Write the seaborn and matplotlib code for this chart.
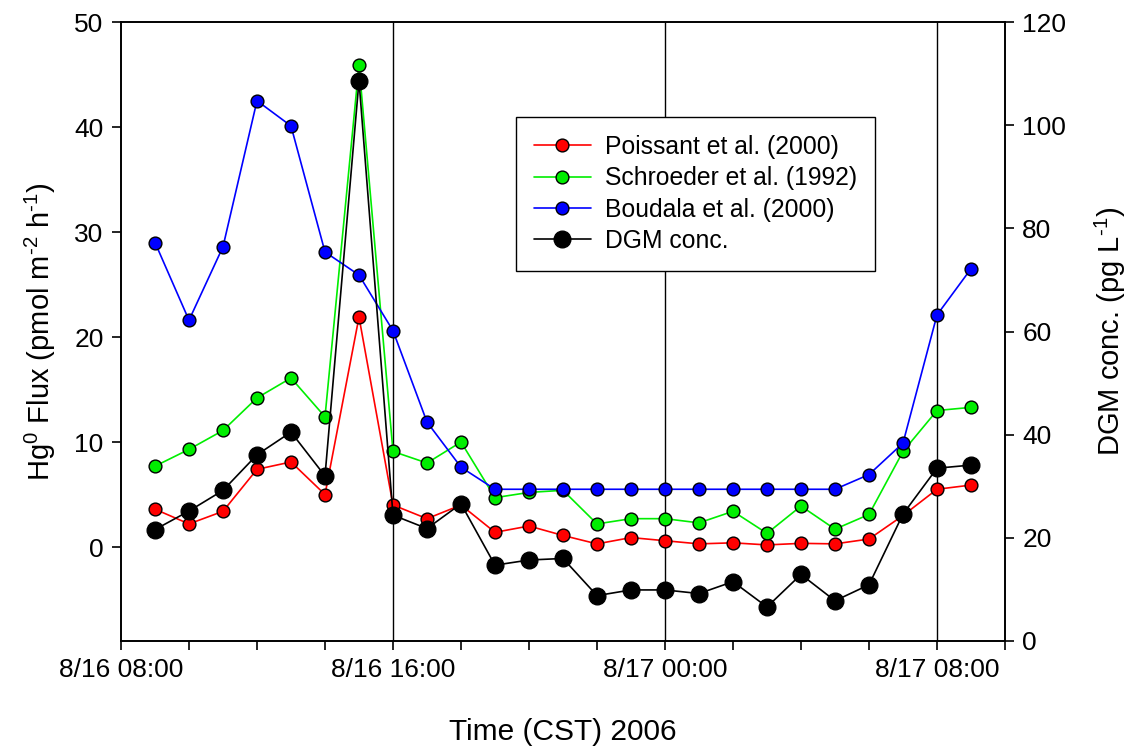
import numpy as np
import pandas as pd
import matplotlib
matplotlib.use("Agg")
import matplotlib.pyplot as plt
import matplotlib.dates as mdates
from matplotlib.ticker import FuncFormatter
import seaborn as sns

sns.set_theme(style="ticks")
plt.rcParams['font.family'] = ['Liberation Sans', 'DejaVu Sans']
plt.rcParams['mathtext.fontset'] = 'custom'
plt.rcParams['mathtext.rm'] = 'Liberation Sans'
plt.rcParams['mathtext.it'] = 'Liberation Sans'
plt.rcParams['text.color'] = 'black'
plt.rcParams['axes.labelcolor'] = 'black'

times = pd.date_range("2006-08-16 09:00", "2006-08-17 09:00", freq="1h")

poissant = [3.6, 2.2, 3.4, 7.4, 8.1, 5.0, 21.9, 4.0, 2.7, 4.0, 1.4, 2.0, 1.1, 0.3,
            0.9, 0.6, 0.3, 0.4, 0.2, 0.35, 0.3, 0.76, 3.0, 5.5, 5.9]
schroeder = [7.7, 9.3, 11.1, 14.2, 16.1, 12.4, 45.9, 9.1, 8.0, 10.0, 4.7, 5.2, 5.4, 2.2,
             2.7, 2.7, 2.3, 3.4, 1.3, 3.9, 1.7, 3.1, 9.1, 13.0, 13.3]
boudala = [29.0, 21.6, 28.6, 42.5, 40.1, 28.1, 25.9, 20.6, 11.9, 7.6, 5.5, 5.5, 5.5, 5.5,
           5.5, 5.5, 5.5, 5.5, 5.5, 5.5, 5.5, 6.9, 9.9, 22.1, 26.5]
dgm = [21.6, 25.2, 29.2, 36.1, 40.5, 32.0, 108.6, 24.4, 21.8, 26.6, 14.7, 15.7, 16.0, 8.8,
       9.9, 9.9, 9.2, 11.5, 6.6, 12.9, 7.8, 10.9, 24.6, 33.5, 34.1]

df = pd.DataFrame({"time": times, "Poissant": poissant, "Schroeder": schroeder,
                   "Boudala": boudala, "DGM": dgm})

fig = plt.figure(figsize=(11.33, 7.48), dpi=100)
ax = fig.add_axes([121/1133, 1-641/748, (1005-121)/1133, (641-22)/748])
ax2 = ax.twinx()

flux_series = [("Poissant", "Poissant et al. (2000)", "#ff0000"),
               ("Schroeder", "Schroeder et al. (1992)", "#00ee00"),
               ("Boudala", "Boudala et al. (2000)", "#0000ff")]
for col, lab, c in flux_series:
    sns.lineplot(data=df, x="time", y=col, ax=ax, color=c, marker="o", markersize=9.2,
                 markeredgecolor="black", markeredgewidth=1.0, linewidth=1.2,
                 label=lab, legend=False)
sns.lineplot(data=df, x="time", y="DGM", ax=ax2, color="black", marker="o", markersize=12,
             markeredgecolor="black", markeredgewidth=1.0, linewidth=1.2,
             label="DGM conc.", legend=False)

x0 = pd.Timestamp("2006-08-16 08:00")
x1 = pd.Timestamp("2006-08-17 10:00")
ax.set_xlim(x0, x1)
ax.set_ylim(-8.95, 50)
ax2.set_ylim(0, 120)

for t in ["2006-08-16 16:00", "2006-08-17 00:00", "2006-08-17 08:00"]:
    ax.axvline(pd.Timestamp(t), color="black", linewidth=1.0, zorder=0.5)

ax.xaxis.set_major_locator(mdates.HourLocator(byhour=[0, 8, 16]))
ax.xaxis.set_minor_locator(mdates.HourLocator(interval=2))
ax.xaxis.set_major_formatter(FuncFormatter(
    lambda v, p: (lambda d: f"{d.month}/{d.day} {d:%H:%M}")(mdates.num2date(v))))
ax.set_yticks([0, 10, 20, 30, 40, 50])
ax2.set_yticks([0, 20, 40, 60, 80, 100, 120])

for a in (ax, ax2):
    for s in a.spines.values():
        s.set_linewidth(1.2)
        s.set_color("black")
ax.tick_params(axis="both", which="both", direction="out", length=6.5, width=1.2,
               labelsize=19, colors="black", pad=6)
ax2.tick_params(axis="y", direction="out", length=6.5, width=1.2, labelsize=19,
                colors="black", pad=6)

ax.set_xlabel("Time (CST) 2006", fontsize=21.5, labelpad=26, color="black")
ax.set_ylabel(r"Hg$^{\text{0}}$ Flux (pmol m$^{\text{-2}}$ h$^{\text{-1}}$)", fontsize=21,
              labelpad=12, color="black")
ax2.set_ylabel(r"DGM conc. (pg L$^{\text{-1}}$)", fontsize=21, labelpad=19, color="black")

h1, l1 = ax.get_legend_handles_labels()
h2, l2 = ax2.get_legend_handles_labels()
leg = ax2.legend(h1 + h2, l1 + l2, loc="upper left",
                 bbox_to_anchor=((516-121)/884, 1-(117-22)/619),
                 fontsize=17.8, frameon=True, fancybox=False, edgecolor="black",
                 framealpha=1, handlelength=2.3, labelspacing=0.3, borderpad=0.72,
                 handletextpad=0.6, borderaxespad=0)
leg.get_frame().set_linewidth(1.0)
for t in leg.get_texts():
    t.set_color("black")

fig.savefig("out.png", dpi=100)
